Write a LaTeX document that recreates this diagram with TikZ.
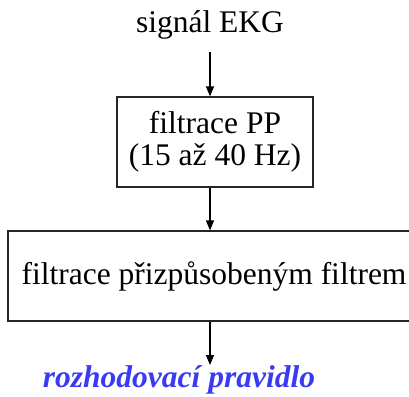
\documentclass[tikz,border=0pt]{standalone}
\usepackage{fontspec}
\setmainfont{Liberation Serif}
\usetikzlibrary{arrows.meta,calc}
\definecolor{ruleblue}{RGB}{58,58,245}
\begin{document}
\begin{tikzpicture}[x=1pt,y=1pt,
  bigtext/.style={font=\fontsize{31.5}{32}\selectfont},
  blockbox/.style={draw=black!85,line width=1.2pt,bigtext,align=center,inner sep=0pt},
  flow/.style={draw=black,line width=1.2pt,-{Triangle[length=10pt,width=8pt]}}]
\useasboundingbox (0,0) rectangle (409,-396);
\clip (0,0) rectangle (409,-396);
\node[bigtext,anchor=base] (sig) at (210,-33) {signál EKG};
\node[blockbox,minimum width=196,minimum height=90] (pp) at (215,-142) {filtrace PP\\(15 až 40 Hz)};
\node[blockbox,minimum width=412,minimum height=90] (mf) at (214,-276) {filtrace přizpůsobeným filtrem};
\node[anchor=base,text=ruleblue,font=\fontsize{31.5}{32}\selectfont\bfseries\itshape] (rule) at (179,-387) {rozhodovací pravidlo};
\coordinate (top) at (210,-52);
\coordinate (end) at (210,-365);
\draw[flow] (top) -- (top |- pp.north);
\draw[flow] (pp.south -| top) -- (mf.north -| top);
\draw[flow] (mf.south -| top) -- (end);
\end{tikzpicture}
\end{document}
